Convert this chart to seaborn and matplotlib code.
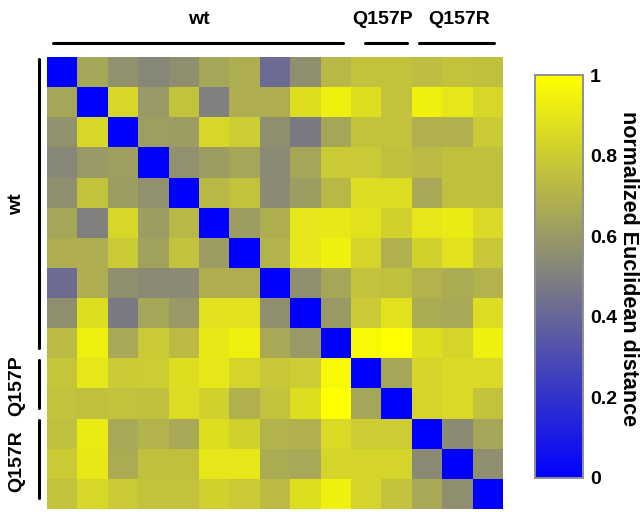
import numpy as np
import pandas as pd
import matplotlib
matplotlib.use("Agg")
import matplotlib.pyplot as plt
import seaborn as sns
from matplotlib.colors import LinearSegmentedColormap

groups = ["wt", "Q157P", "Q157R"]
group_sizes = [10, 2, 3]
cbar_ticks = [0, 0.2, 0.4, 0.6, 0.8, 1]
cbar_ticklabels = ["0", "0.2", "0.4", "0.6", "0.8", "1"]
cbar_label = "normalized Euclidean distance"

row00 = [0.00, 0.65, 0.57, 0.53, 0.56, 0.65, 0.68, 0.42, 0.56, 0.72, 0.76, 0.76, 0.74, 0.76, 0.75]
row01 = [0.65, 0.00, 0.84, 0.60, 0.76, 0.50, 0.68, 0.68, 0.87, 0.94, 0.87, 0.76, 0.94, 0.90, 0.84]
row02 = [0.57, 0.84, 0.00, 0.62, 0.61, 0.84, 0.80, 0.56, 0.48, 0.65, 0.76, 0.76, 0.69, 0.69, 0.79]
row03 = [0.53, 0.60, 0.62, 0.00, 0.57, 0.61, 0.65, 0.54, 0.65, 0.79, 0.79, 0.75, 0.73, 0.75, 0.75]
row04 = [0.56, 0.76, 0.61, 0.57, 0.00, 0.72, 0.76, 0.54, 0.61, 0.72, 0.86, 0.86, 0.66, 0.75, 0.75]
row05 = [0.65, 0.50, 0.84, 0.61, 0.72, 0.00, 0.61, 0.68, 0.90, 0.91, 0.88, 0.82, 0.90, 0.92, 0.85]
row06 = [0.68, 0.68, 0.79, 0.63, 0.76, 0.61, 0.00, 0.70, 0.90, 0.94, 0.83, 0.69, 0.82, 0.88, 0.78]
row07 = [0.42, 0.68, 0.56, 0.54, 0.54, 0.68, 0.68, 0.00, 0.56, 0.65, 0.76, 0.75, 0.70, 0.67, 0.70]
row08 = [0.56, 0.87, 0.48, 0.65, 0.60, 0.88, 0.88, 0.56, 0.00, 0.60, 0.79, 0.88, 0.67, 0.66, 0.86]
row09 = [0.73, 0.94, 0.66, 0.79, 0.73, 0.91, 0.94, 0.66, 0.60, 0.00, 0.97, 1.00, 0.87, 0.83, 0.94]
row10 = [0.77, 0.90, 0.79, 0.80, 0.87, 0.90, 0.83, 0.78, 0.80, 0.97, 0.00, 0.65, 0.83, 0.85, 0.85]
row11 = [0.76, 0.75, 0.76, 0.75, 0.86, 0.82, 0.69, 0.76, 0.87, 1.00, 0.65, 0.00, 0.83, 0.85, 0.76]
row12 = [0.75, 0.92, 0.66, 0.70, 0.66, 0.87, 0.82, 0.70, 0.69, 0.85, 0.80, 0.80, 0.00, 0.54, 0.65]
row13 = [0.79, 0.91, 0.67, 0.75, 0.75, 0.90, 0.90, 0.67, 0.66, 0.83, 0.83, 0.83, 0.54, 0.00, 0.56]
row14 = [0.76, 0.84, 0.79, 0.76, 0.76, 0.82, 0.79, 0.73, 0.87, 0.94, 0.83, 0.76, 0.66, 0.56, 0.00]

data = pd.DataFrame([row00, row01, row02, row03, row04, row05, row06, row07,
                     row08, row09, row10, row11, row12, row13, row14])

cmap = LinearSegmentedColormap.from_list("byg", ["#0000ff", "#808080", "#ffff00"])

W, H = 643, 512
fig = plt.figure(figsize=(W / 100, H / 100), dpi=100)
ax = fig.add_axes([47 / W, (H - 509) / H, 456 / W, 452 / H])
cax = fig.add_axes([535 / W, (H - 478) / H, 48 / W, 403 / H])

sns.heatmap(data, ax=ax, cmap=cmap, vmin=0, vmax=1, cbar_ax=cax,
            xticklabels=False, yticklabels=False, square=False)
ax.set_xlabel("")
ax.set_ylabel("")

font = dict(family=["Liberation Sans", "DejaVu Sans"], weight="bold")

cax.set_yticks(cbar_ticks)
cax.set_yticklabels(cbar_ticklabels, fontsize=14, **font)
cax.tick_params(length=0, pad=5)
for s in cax.spines.values():
    s.set_visible(True)
    s.set_edgecolor("#909090")
    s.set_linewidth(1.2)
cax.text(1.72, 0.52, cbar_label, rotation=270, transform=cax.transAxes,
         ha="left", va="center", fontsize=15.5, **font)

# group annotations
starts = np.cumsum([0] + group_sizes[:-1])
insets = [(0.2, 0.25), (0.45, 0.15), (0.25, 0.3)]
for g, s0, sz, (a, b) in zip(groups, starts, group_sizes, insets):
    x0, x1 = s0 + a, s0 + sz - b
    ax.plot([x0, x1], [-0.45, -0.45], color="black", lw=2.2, clip_on=False,
            solid_capstyle="round")
    ax.text((s0 + s0 + sz) / 2 + (0 if g == "wt" else 0.05), -0.95, g,
            ha="center", va="bottom", fontsize=14, **font)
    ax.plot([-0.25, -0.25], [s0 + 0.05, s0 + sz - 0.35], color="black", lw=2.2,
            clip_on=False, solid_capstyle="round")
    ax.text(-0.72, (s0 + s0 + sz) / 2 - 0.1, g, rotation=90, ha="right",
            va="center", fontsize=14, **font)

fig.savefig("out.png", dpi=100)
